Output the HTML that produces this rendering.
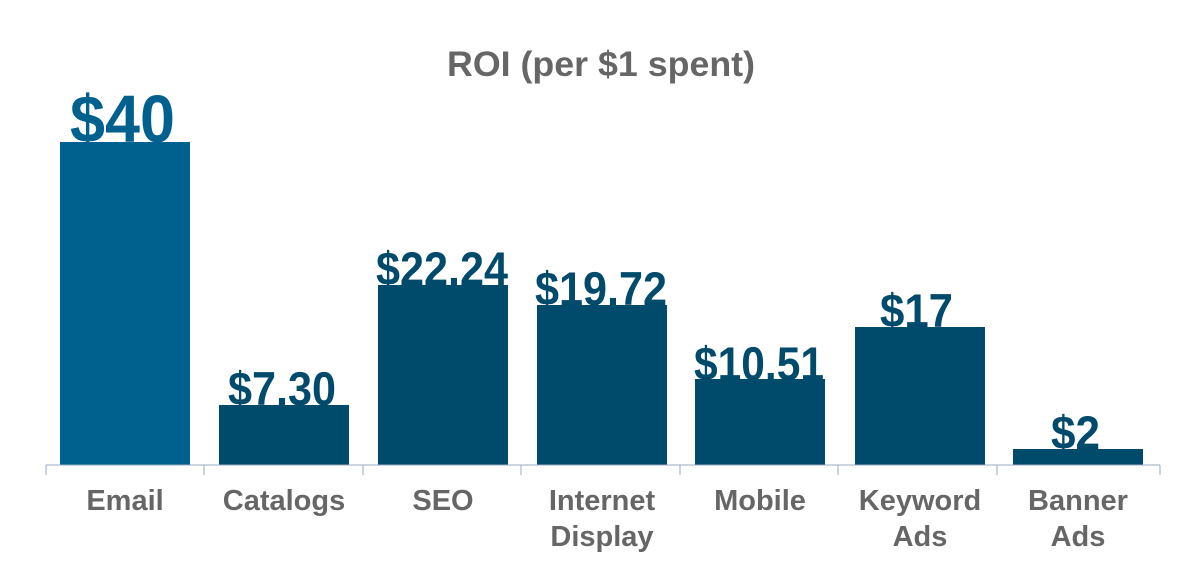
<!DOCTYPE html>
<html><head><style>body{margin:0;background:#fff}svg{display:block}</style></head>
<body>
<svg width="1190" height="582" xmlns="http://www.w3.org/2000/svg" font-family="Liberation Sans, Arial, sans-serif" font-weight="bold">
<text x="601" y="76" font-size="35" fill="#666" text-anchor="middle" textLength="308" lengthAdjust="spacingAndGlyphs">ROI (per $1 spent)</text>
<rect x="60" y="142" width="130" height="323" fill="#00608e"/>
<rect x="219" y="405" width="130" height="60" fill="#004a6b"/>
<rect x="378" y="285" width="130" height="180" fill="#004a6b"/>
<rect x="537" y="305" width="130" height="160" fill="#004a6b"/>
<rect x="695" y="379" width="130" height="86" fill="#004a6b"/>
<rect x="855" y="327" width="130" height="138" fill="#004a6b"/>
<rect x="1013" y="449" width="130" height="16" fill="#004a6b"/>
<path d="M46 465H1160M46 465v10M204 465v10M363 465v10M521 465v10M680 465v10M838 465v10M997 465v10M1160 465v10" stroke="#9ab" stroke-width="1" fill="none"/>
<g fill="#00608e"><text x="70" y="142" font-size="67" textLength="105" lengthAdjust="spacingAndGlyphs">$40</text></g>
<g fill="#004a6b" font-size="47">
<text x="228" y="405" textLength="108" lengthAdjust="spacingAndGlyphs">$7.30</text>
<text x="376" y="285" textLength="132" lengthAdjust="spacingAndGlyphs">$22.24</text>
<text x="535" y="305" textLength="132" lengthAdjust="spacingAndGlyphs">$19.72</text>
<text x="694" y="380" textLength="130" lengthAdjust="spacingAndGlyphs">$10.51</text>
<text x="880" y="327" textLength="73" lengthAdjust="spacingAndGlyphs">$17</text>
<text x="1051" y="449" textLength="49" lengthAdjust="spacingAndGlyphs">$2</text>
</g>
<g fill="#666" font-size="29" text-anchor="middle">
<text x="125" y="510">Email</text>
<text x="284" y="510">Catalogs</text>
<text x="443" y="510">SEO</text>
<text x="602" y="510">Internet</text><text x="602" y="546">Display</text>
<text x="760" y="510">Mobile</text>
<text x="920" y="510">Keyword</text><text x="920" y="546">Ads</text>
<text x="1078" y="510">Banner</text><text x="1078" y="546">Ads</text>
</g>
</svg>
</body></html>
